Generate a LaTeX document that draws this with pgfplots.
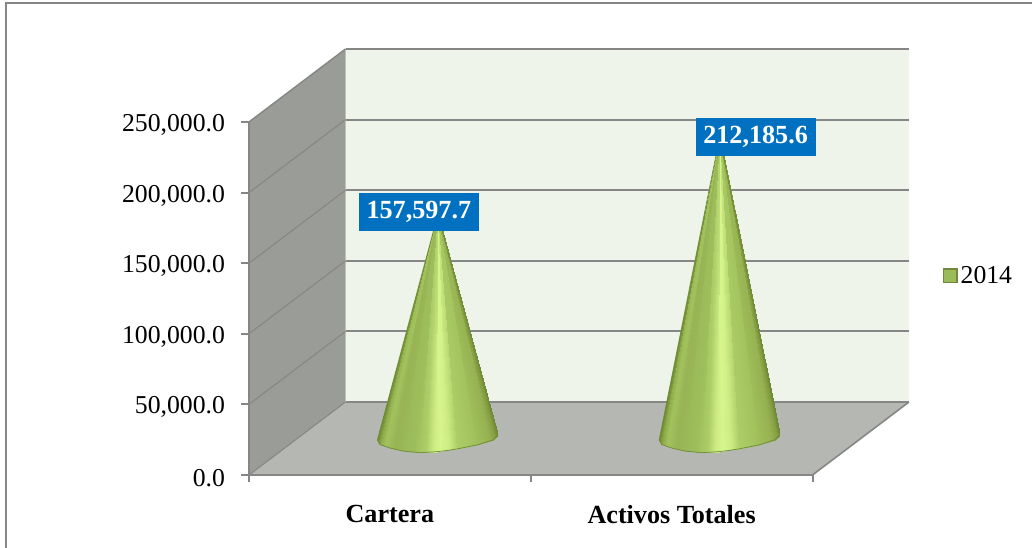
\documentclass[border=0pt]{standalone}
\usepackage{pgfplots}
\pgfplotsset{compat=1.18}
\usepackage{fontspec}
\setmainfont{Liberation Serif}
\definecolor{wallside}{HTML}{9A9C98}
\definecolor{wallfloor}{HTML}{B5B7B2}
\definecolor{wallback}{HTML}{EFF4EA}
\definecolor{gridgray}{HTML}{868686}
\definecolor{labelblue}{HTML}{0070C0}
\definecolor{legfill}{HTML}{9BBB59}
\definecolor{legdraw}{HTML}{71893F}
\definecolor{conerim}{HTML}{6F8C38}
\newcommand{\chartfont}{\fontsize{19.3pt}{23pt}\selectfont}
\newcommand{\boldfont}{\fontsize{19.6pt}{23pt}\selectfont\bfseries}
\begin{document}
\begin{tikzpicture}
\path[use as bounding box] (0,0) rectangle (774pt,411pt);
% outer frame: only the top and left edges fall inside the page
\draw[gridgray,line width=1.5pt] (4.5pt,0pt) -- (4.5pt,409pt) -- (774pt,409pt);

% Front plane of the 3D box: axes, walls and floor
\begin{axis}[
  at={(186.75pt,54.75pt)}, anchor=origin,
  scale only axis, width=422.625pt, height=264.75pt,
  xmin=0, xmax=2, ymin=0, ymax=250000,
  clip=false, axis on top,
  axis x line=bottom, axis y line=left,
  axis line style={-, gridgray},
  x axis line style={line width=1.9pt},
  y axis line style={line width=1.1pt},
  xtick={0.5,1.5}, xticklabels={{\boldfont Cartera},{\boldfont Activos Totales}},
  minor xtick={0,1,2},
  ytick={0,50000,100000,150000,200000,250000},
  tick style={gridgray,line width=1.5pt},
  major x tick style={draw=none},
  tick align=outside,
  minor tick length=5.5pt, major tick length=6pt,
  tick label style={font=\chartfont},
  x tick label style={yshift=-13.2pt},
  y tick label style={xshift=-8.5pt,yshift=-2.2pt},
  /pgf/number format/assume math mode=true,
  /pgf/number format/fixed,
  /pgf/number format/fixed zerofill,
  /pgf/number format/precision=1,
  /pgf/number format/1000 sep={,},
  scaled y ticks=false,
]
% side wall, floor, back wall
\addplot[fill=wallside,draw=none] coordinates {(0,0) (0,250000) (0.3425,301700) (0.3425,51700)} --cycle;
\addplot[fill=wallfloor,draw=none] coordinates {(0,0) (2,0) (2.3425,51700) (0.3425,51700)} --cycle;
\addplot[fill=wallback,draw=none] coordinates {(0.3425,51700) (2.3425,51700) (2.3425,301700) (0.3425,301700)} --cycle;
% floor edge at the right
\addplot[gridgray,line width=1.2pt] coordinates {(2,0) (2.3425,51700)};
% gridlines on the side wall
\addplot[gridgray,line width=0.8pt] coordinates {(0,0) (0.3425,51700)};
\addplot[gridgray,line width=0.8pt] coordinates {(0,50000) (0.3425,101700)};
\addplot[gridgray,line width=0.8pt] coordinates {(0,100000) (0.3425,151700)};
\addplot[gridgray,line width=0.8pt] coordinates {(0,150000) (0.3425,201700)};
\addplot[gridgray,line width=0.8pt] coordinates {(0,200000) (0.3425,251700)};
\addplot[gridgray,line width=1.1pt] coordinates {(0,250000) (0.3425,301700)};
% gridlines on the back wall
\addplot[gridgray,line width=1.0pt] coordinates {(0.3425,51700) (2.3425,51700)};
\addplot[gridgray,line width=1.4pt] coordinates {(0.3425,101700) (2.3425,101700)};
\addplot[gridgray,line width=1.4pt] coordinates {(0.3425,151700) (2.3425,151700)};
\addplot[gridgray,line width=1.4pt] coordinates {(0.3425,201700) (2.3425,201700)};
\addplot[gridgray,line width=1.4pt] coordinates {(0.3425,251700) (2.3425,251700)};
\addplot[gridgray,line width=1.4pt] coordinates {(0.3425,301700) (2.3425,301700)};
\end{axis}

% Cone series, plotted on the mid-depth plane of the box
\begin{axis}[
  at={(222.75pt,83.25pt)}, anchor=origin,
  scale only axis, width=422.625pt, height=264.75pt,
  xmin=0, xmax=2, ymin=0, ymax=250000,
  clip=false, hide axis,
  colormap={conegreen}{
    rgb255(0pt)=(110,135,50);
    rgb255(2pt)=(140,170,72);
    rgb255(6pt)=(162,194,94);
    rgb255(14pt)=(152,180,85);
    rgb255(30pt)=(158,190,92);
    rgb255(40pt)=(172,205,105);
    rgb255(46pt)=(205,235,130);
    rgb255(52pt)=(214,245,140);
    rgb255(59pt)=(205,235,130);
    rgb255(66pt)=(172,205,104);
    rgb255(80pt)=(162,194,94);
    rgb255(92pt)=(150,178,82);
    rgb255(97pt)=(135,160,68);
    rgb255(100pt)=(110,135,52)},
  point meta min=0, point meta max=1,
  legend style={at={(axis description cs:1.146,0.456)}, anchor=west,
    draw=none, fill=none, inner sep=0pt, outer sep=0pt, font=\chartfont,
    legend cell align=left},
]
\addlegendimage{legend image code/.code={
    \draw[fill=legfill,draw=legdraw,line width=1.2pt] (0pt,-4.8pt) rectangle (10.2pt,5.2pt);}}
\addlegendentry{2014}
% Cartera: triangle fan from the tip to the tilted base, last number is the position across the cone
\addplot[patch, shader=interp, point meta=explicit, forget plot] coordinates {
  (0.5,157597.7) [.010] (0.2853,-2125) [0] (0.2941,-5312) [.021]
  (0.5,157597.7) [.062] (0.2941,-5312) [.021] (0.3296,-7790) [.103]
  (0.5,157597.7) [.157] (0.3296,-7790) [.103] (0.3758,-9915) [.211]
  (0.5,157597.7) [.281] (0.3758,-9915) [.211] (0.4361,-11120) [.351]
  (0.5,157597.7) [.420] (0.4361,-11120) [.351] (0.4965,-10410) [.492]
  (0.5,157597.7) [.533] (0.4965,-10410) [.492] (0.5319,-9560) [.574]
  (0.5,157597.7) [.615] (0.5319,-9560) [.574] (0.5674,-8500) [.657]
  (0.5,157597.7) [.740] (0.5674,-8500) [.657] (0.6384,-5666) [.822]
  (0.5,157597.7) [.888] (0.6384,-5666) [.822] (0.6952,-2125) [.955]
  (0.5,157597.7) [.977] (0.6952,-2125) [.955] (0.713,1416) [1]
};
\addplot[draw=conerim, line width=0.55pt, line join=round, forget plot]
  coordinates {(0.5,157597.7) (0.713,1416) (0.6952,-2125) (0.6384,-5666) (0.5674,-8500)
    (0.5319,-9560) (0.4965,-10410) (0.4361,-11120) (0.3758,-9915) (0.3296,-7790)
    (0.2941,-5312) (0.2853,-2125)} --cycle;
% Activos Totales
\addplot[patch, shader=interp, point meta=explicit, forget plot] coordinates {
  (1.5,212185.6) [.010] (1.2853,-2125) [0] (1.2941,-5312) [.021]
  (1.5,212185.6) [.062] (1.2941,-5312) [.021] (1.3296,-7790) [.103]
  (1.5,212185.6) [.157] (1.3296,-7790) [.103] (1.3758,-9915) [.211]
  (1.5,212185.6) [.281] (1.3758,-9915) [.211] (1.4361,-11120) [.351]
  (1.5,212185.6) [.420] (1.4361,-11120) [.351] (1.4965,-10410) [.492]
  (1.5,212185.6) [.533] (1.4965,-10410) [.492] (1.5319,-9560) [.574]
  (1.5,212185.6) [.615] (1.5319,-9560) [.574] (1.5674,-8500) [.657]
  (1.5,212185.6) [.740] (1.5674,-8500) [.657] (1.6384,-5666) [.822]
  (1.5,212185.6) [.888] (1.6384,-5666) [.822] (1.6952,-2125) [.955]
  (1.5,212185.6) [.977] (1.6952,-2125) [.955] (1.713,1416) [1]
};
\addplot[draw=conerim, line width=0.55pt, line join=round, forget plot]
  coordinates {(1.5,212185.6) (1.713,1416) (1.6952,-2125) (1.6384,-5666) (1.5674,-8500)
    (1.5319,-9560) (1.4965,-10410) (1.4361,-11120) (1.3758,-9915) (1.3296,-7790)
    (1.2941,-5312) (1.2853,-2125)} --cycle;
% value labels
\node[fill=labelblue,text=white,font=\boldfont,minimum width=90pt,minimum height=28.5pt,
  inner sep=0pt,xshift=-14.25pt,yshift=2.2pt] at (axis cs:0.5,157597.7) {157,597.7};
\node[fill=labelblue,text=white,font=\boldfont,minimum width=90pt,minimum height=28.5pt,
  inner sep=0pt,xshift=27pt,yshift=0.6pt] at (axis cs:1.5,212185.6) {212,185.6};
\end{axis}
\end{tikzpicture}
\end{document}
